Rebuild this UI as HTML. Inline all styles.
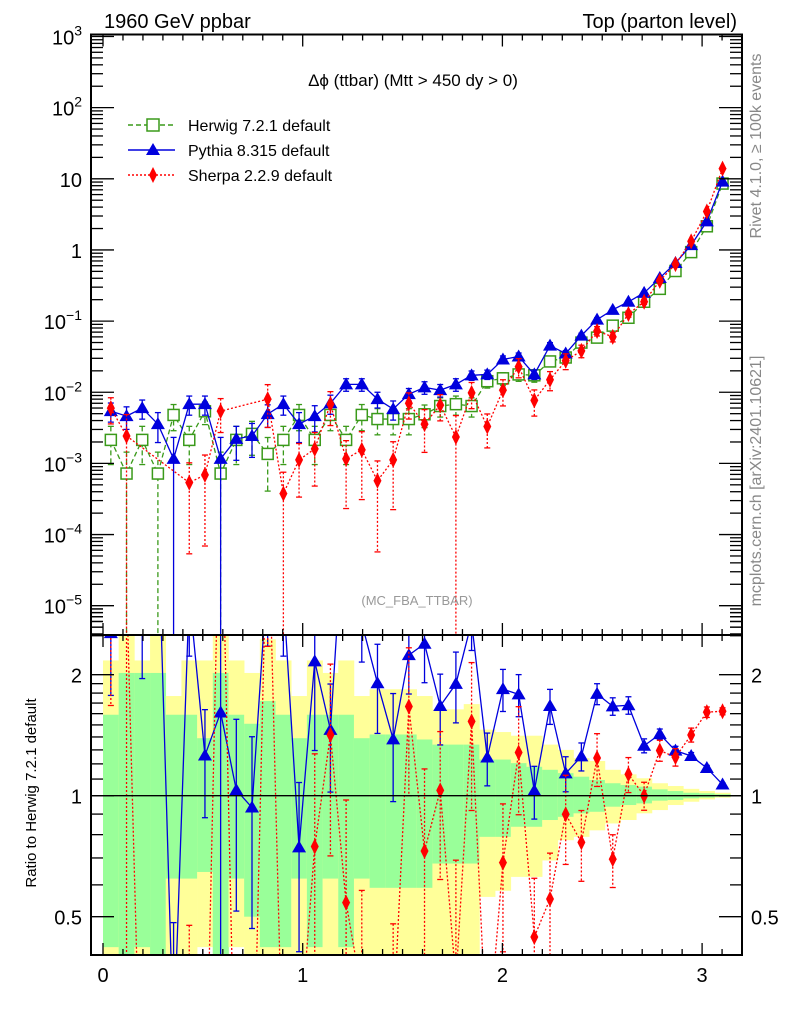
<!DOCTYPE html>
<html><head><meta charset="utf-8"><style>
html,body{margin:0;padding:0;background:#fff;width:786px;height:1024px;overflow:hidden}
svg{display:block;overflow:hidden;font-family:"Liberation Sans",sans-serif}
</style></head><body>
<svg id="chart" width="786" height="1024" viewBox="0 0 786 1024" xmlns="http://www.w3.org/2000/svg">
<defs>
<clipPath id="clipMain"><rect x="91" y="34.5" width="651" height="600.5"/></clipPath>
<clipPath id="clipRatio"><rect x="91" y="635" width="651" height="320"/></clipPath>
</defs>
<g id="bands" clip-path="url(#clipRatio)"></g>
<g id="ratioMarks" clip-path="url(#clipRatio)"></g>
<g id="mainMarks" clip-path="url(#clipMain)"></g>
<g id="axes"></g>
<text x="104" y="28" font-size="20">1960 GeV ppbar</text>
<text x="737" y="28" font-size="20" text-anchor="end">Top (parton level)</text>
<text x="413" y="86" font-size="17" text-anchor="middle">Δϕ (ttbar) (Mtt &gt; 450 dy &gt; 0)</text>
<text x="417" y="605" font-size="13" fill="#999" text-anchor="middle">(MC_FBA_TTBAR)</text>
<text transform="translate(761,146) rotate(-90)" font-size="16" fill="#888" text-anchor="middle">Rivet 4.1.0, ≥ 100k events</text>
<text transform="translate(761,481) rotate(-90)" font-size="16" fill="#888" text-anchor="middle">mcplots.cern.ch [arXiv:2401.10621]</text>
<text transform="translate(36,793) rotate(-90)" font-size="15" text-anchor="middle">Ratio to Herwig 7.2.1 default</text>
<g>
 <g>
  <line x1="128" y1="125" x2="175" y2="125" stroke="#3a9a1a" stroke-width="1.5" stroke-dasharray="5,3"/>
  <rect x="147" y="119" width="12" height="12" fill="#fff" stroke="#3a9a1a" stroke-width="1.5"/>
  <text x="188" y="131" font-size="16">Herwig 7.2.1 default</text>
 </g>
 <g>
  <line x1="128" y1="150" x2="175" y2="150" stroke="#0000dd" stroke-width="1.5"/>
  <polygon points="153,143 160,155 146,155" fill="#0000dd"/>
  <text x="188" y="156" font-size="16">Pythia 8.315 default</text>
 </g>
 <g>
  <line x1="128" y1="175" x2="175" y2="175" stroke="#ff0000" stroke-width="1.5" stroke-dasharray="2,2"/>
  <polygon points="153,167 157,175 153,183 149,175" fill="#ff0000"/>
  <text x="188" y="181" font-size="16">Sherpa 2.2.9 default</text>
 </g>
</g>
</svg>
<script>
// ---- data ----
const nBins = 40;
const binLow = 0;
const binHigh = 3.14159;
const herwig = [2.14e-3,7.2e-4,2.14e-3,7.2e-4,4.8e-3,2.14e-3,5.4e-3,7.2e-4,2.14e-3,2.6e-3,1.36e-3,2.14e-3,4.8e-3,2.14e-3,4.8e-3,2.14e-3,4.8e-3,4.2e-3,4.2e-3,4.2e-3,4.9e-3,6.4e-3,6.8e-3,6.4e-3,0.0143,0.0157,0.0178,0.0173,0.0271,0.0308,0.0499,0.0586,0.0863,0.1114,0.187,0.284,0.506,0.932,2.15,8.57];
const herwigErr = [0.55,1,0.55,1,0.4,0.55,0.35,1,0.55,0.5,0.7,0.55,0.4,0.55,0.4,0.55,0.4,0.4,0.4,0.4,0.35,0.3,0.3,0.3,0.2,0.2,0.2,0.2,0.15,0.15,0.12,0.1,0.09,0.08,0.06,0.05,0.04,0.03,0.02,0.01];
const pythia = [5.43e-3,4.62e-3,5.98e-3,3.57e-3,1.16e-3,6.8e-3,6.8e-3,1.16e-3,2.21e-3,2.43e-3,4.93e-3,6.8e-3,3.57e-3,4.62e-3,7.0e-3,0.0129,0.0129,8.0e-3,5.8e-3,9.4e-3,0.0117,0.0107,0.0129,0.0173,0.0178,0.0289,0.0318,0.0178,0.0453,0.035,0.0625,0.105,0.144,0.187,0.249,0.404,0.655,1.17,2.52,9.14];
const pythiaErr = [0.3,0.35,0.3,0.45,1,0.3,0.3,1,0.5,0.5,0.35,0.3,0.45,0.4,0.3,0.2,0.2,0.25,0.3,0.2,0.2,0.2,0.2,0.15,0.15,0.12,0.12,0.15,0.1,0.1,0.08,0.06,0.05,0.05,0.04,0.03,0.025,0.02,0.015,0.01];
const sherpa = [5.98e-3,2.43e-3,0,0,0,5.36e-4,6.9e-4,5.43e-3,0,0,8.0e-3,3.76e-4,1.12e-3,1.6e-3,6.8e-3,1.16e-3,1.55e-3,5.7e-4,1.12e-3,7.0e-3,3.57e-3,6.6e-3,2.35e-3,9.8e-3,3.3e-3,0.0107,0.0228,7.7e-3,0.015,0.0277,0.0382,0.0727,0.06,0.126,0.187,0.368,0.631,1.32,3.47,13.9];
const sherpaErr = [0.4,1,0,0,0,0.9,0.9,0.5,0,0,0.6,1,0.7,0.7,0.5,0.8,0.8,0.9,0.8,0.4,0.6,0.4,1,0.4,0.5,0.4,0.3,0.4,0.3,0.25,0.2,0.15,0.15,0.1,0.08,0.06,0.05,0.04,0.03,0.02];
const yellowUp = [2.17,2.6,2.17,2.6,1.77,2.17,2.17,2.6,2.17,2.02,2.45,2.17,1.77,2.17,2.02,2.17,1.77,1.84,1.84,1.84,1.77,1.64,1.64,1.69,1.46,1.44,1.41,1.41,1.34,1.30,1.24,1.22,1.16,1.13,1.105,1.074,1.057,1.04,1.027,1.017];
const greenUp = [1.59,2.02,2.02,2.02,1.59,1.59,1.39,2.02,1.59,1.51,1.72,1.59,1.39,1.59,1.59,1.59,1.39,1.42,1.42,1.42,1.38,1.34,1.34,1.34,1.23,1.23,1.205,1.18,1.16,1.138,1.115,1.094,1.074,1.063,1.053,1.037,1.027,1.017,1.014,1.008];
const greenDn = [0.42,0.3,0.42,0.3,0.622,0.622,0.646,0.3,0.622,0.5,0.42,0.42,0.622,0.42,0.622,0.42,0.622,0.59,0.59,0.59,0.59,0.678,0.678,0.678,0.79,0.79,0.837,0.837,0.87,0.886,0.904,0.912,0.939,0.948,0.957,0.972,0.976,0.985,0.989,0.994];
const yellowDn = [0.3,0.3,0.3,0.3,0.3,0.3,0.42,0.3,0.42,0.3,0.3,0.3,0.3,0.3,0.3,0.3,0.3,0.3,0.3,0.3,0.3,0.3,0.3,0.3,0.56,0.58,0.628,0.628,0.69,0.775,0.79,0.82,0.853,0.87,0.904,0.921,0.948,0.966,0.979,0.989];
const xTicks = [0,1,2,3];
const mainDecades = [3,2,1,0,-1,-2,-3,-4,-5];
const ratioMajor = [0.5,1,2];

// ---- axes functions ----
const X0=91, X1=742, MT=34.5, MB=635, RT=635, RB=955;
function xS(v){ return 103 + 199.7*v; }
function yM(v){ return 36.5 + (3 - Math.log10(v))*71.15; }
function yR(r){ return 795.7 - Math.log2(r)*121; }
const bw = (binHigh-binLow)/nBins;
function cen(i){ return binLow + bw*(i+0.5); }
const NS="http://www.w3.org/2000/svg";
function mk(tag, attrs, parent){ const e=document.createElementNS(NS,tag); for(const k in attrs) e.setAttribute(k,attrs[k]); parent.appendChild(e); return e; }

// ---- bands ----
const gB=document.getElementById('bands');
for(let i=0;i<nBins;i++){
  const xa=xS(binLow+bw*i), xb=xS(binLow+bw*(i+1));
  const y1=yR(yellowUp[i]), y2=Math.min(RB,yR(yellowDn[i]));
  const r=mk('rect',{x:xa,y:y1,width:xb-xa+0.3,height:y2-y1,fill:'#ffff99'},gB);
  
  
  const g1=yR(greenUp[i]), g2=Math.min(RB,yR(greenDn[i]));
  const r2=mk('rect',{x:xa,y:g1,width:xb-xa+0.3,height:g2-g1,fill:'#99ff99'},gB);
  
  
}

// ---- markers ----
function marker(kind,x,y,parent){
  let e;
  if(kind==='sq'){ e=mk('rect',{x:x-5.5,y:y-5.5,width:11,height:11,fill:'#fff',stroke:'#3a9a1a','stroke-width':1.5},parent); }
  else if(kind==='tri'){ e=mk('polygon',{points:`${x},${y-7} ${x+7},${y+5} ${x-7},${y+5}`,fill:'#0000dd'},parent); }
  else { e=mk('polygon',{points:`${x},${y-8} ${x+4},${y} ${x},${y+8} ${x-4},${y}`,fill:'#ff0000'},parent); }
  return e;
}
const series=[
  {name:'herwig',vals:herwig,err:herwigErr,color:'#3a9a1a',dash:'5,3',kind:'sq'},
  {name:'pythia',vals:pythia,err:pythiaErr,color:'#0000dd',dash:'',kind:'tri'},
  {name:'sherpa',vals:sherpa,err:sherpaErr,color:'#ff0000',dash:'2,2',kind:'dia'}
];
const gM=document.getElementById('mainMarks');
const gR=document.getElementById('ratioMarks');
const LOWM=MB+5, LOWR=RB+5;
series.forEach(s=>{
  const gs=mk('g',{},gM);
  
  
  let pts=[];
  for(let i=0;i<nBins;i++){ if(s.vals[i]>0) pts.push([xS(cen(i)),yM(s.vals[i])]); }
  const pl=mk('polyline',{points:pts.map(p=>p.join(',')).join(' '),fill:'none',stroke:s.color,'stroke-width':1.3,'stroke-dasharray':s.dash},gs);
  
  
  for(let i=0;i<nBins;i++){
    const v=s.vals[i]; if(!(v>0)) continue;
    const x=xS(cen(i)), y=yM(v);
    const lo=v*(1-s.err[i]), hi=v*(1+s.err[i]);
    const ylo= lo>0? Math.min(LOWM,yM(lo)): LOWM, yhi=yM(hi);
    const eb=mk('line',{x1:x,y1:yhi,x2:x,y2:ylo,stroke:s.color,'stroke-width':1.3,'stroke-dasharray':s.dash},gs);
    
    
    mk('line',{x1:x-3,y1:yhi,x2:x+3,y2:yhi,stroke:s.color,'stroke-width':1.3},gs);
    if(lo>0 && yM(lo)<MB) mk('line',{x1:x-3,y1:ylo,x2:x+3,y2:ylo,stroke:s.color,'stroke-width':1.3},gs);
    const m=marker(s.kind,x,y,gs);
    
    
  }
  if(s.name==='herwig') return;
  const gr=mk('g',{},gR);
  
  
  let rp=[];
  for(let i=0;i<nBins;i++){
    const r=s.vals[i]/herwig[i];
    const y= r>0? yR(r): LOWR+200;
    rp.push([xS(cen(i)),Math.max(RT-200,Math.min(LOWR+200,y))]);
  }
  const rl=mk('polyline',{points:rp.map(p=>p.join(',')).join(' '),fill:'none',stroke:s.color,'stroke-width':1.3,'stroke-dasharray':s.dash},gr);
  
  
  for(let i=0;i<nBins;i++){
    const r=s.vals[i]/herwig[i]; if(!(r>0)) continue;
    const x=xS(cen(i)), y=yR(r);
    const lo=r*(1-s.err[i]), hi=r*(1+s.err[i]);
    const ylo= lo>0? Math.min(LOWR,yR(lo)): LOWR, yhi=Math.max(RT-5,yR(hi));
    const eb=mk('line',{x1:x,y1:yhi,x2:x,y2:ylo,stroke:s.color,'stroke-width':1.3,'stroke-dasharray':s.dash},gr);
    
    
    mk('line',{x1:x-3,y1:yhi,x2:x+3,y2:yhi,stroke:s.color,'stroke-width':1.3},gr);
    if(lo>0) mk('line',{x1:x-3,y1:ylo,x2:x+3,y2:ylo,stroke:s.color,'stroke-width':1.3},gr);
    const m=marker(s.kind,x,y,gr);
    
    
  }
});
const one=mk('line',{x1:X0,y1:yR(1),x2:X1,y2:yR(1),stroke:'#000','stroke-width':1.3},gR);



// ---- axes ----
const gA=document.getElementById('axes');
function ln(x1,y1,x2,y2,w){ return mk('line',{x1,y1,x2,y2,stroke:'#000','stroke-width':w||1.3},gA); }
const f1=mk('rect',{x:X0,y:MT,width:X1-X0,height:MB-MT,fill:'none',stroke:'#000','stroke-width':2},gA);


const f2=mk('rect',{x:X0,y:RT,width:X1-X0,height:RB-RT,fill:'none',stroke:'#000','stroke-width':2},gA);


for(let v=-0.05; v<=3.2; v+=0.1){
  const vv=Math.round(v*10)/10; const x=xS(vv); if(x<X0||x>X1) continue;
  const major=Math.abs(vv-Math.round(vv))<1e-6;
  const L=major?12:6;
  [MT,RT].forEach(t=>ln(x,t,x,t+L));
  [MB,RB].forEach(b=>ln(x,b,x,b-L));
}
xTicks.forEach(t=>{
  const e=mk('text',{x:xS(t),y:982,'font-size':20,'text-anchor':'middle'},gA);
  e.textContent=String(t);
  
  
});
mainDecades.forEach(d=>{
  const y=yM(Math.pow(10,d));
  ln(X0,y,X0+23,y); ln(X1,y,X1-23,y);
  for(let k=2;k<=9;k++){ const ym=yM(k*Math.pow(10,d-1)); if(ym>MB||ym<MT) continue; ln(X0,ym,X0+12,ym); ln(X1,ym,X1-12,ym); }
  const t=mk('text',{x:82,y:y+8,'font-size':20,'text-anchor':'end'},gA);
  
  
  if(d===1){ t.textContent='10'; }
  else if(d===0){ t.textContent='1'; }
  else {
    const a=document.createElementNS(NS,'tspan'); a.textContent='10'; t.appendChild(a);
    const b=document.createElementNS(NS,'tspan'); b.setAttribute('dy','-9'); b.setAttribute('font-size','14'); b.textContent=(d<0?'−':'')+Math.abs(d); t.appendChild(b);
  }
});
for(let k=2;k<=9;k++){ const ym=yM(k*1e-6); if(ym<MB){ ln(X0,ym,X0+12,ym); ln(X1,ym,X1-12,ym);} }
[0.4,0.5,0.6,0.7,0.8,0.9,1,1.1,1.2,1.3,1.4,1.5,1.6,1.7,1.8,1.9,2,2.5].forEach(r=>{
  const y=yR(r); if(y<RT||y>RB) return;
  const major=ratioMajor.indexOf(r)>=0; const L=major?23:12;
  ln(X0,y,X0+L,y); ln(X1,y,X1-L,y);
});
ratioMajor.forEach(r=>{
  const y=yR(r);
  const a=mk('text',{x:82,y:y+8,'font-size':20,'text-anchor':'end'},gA); a.textContent=String(r);
  
  
  const b=mk('text',{x:751,y:y+8,'font-size':20},gA); b.textContent=String(r);
  
  
});
</script>
</body></html>
